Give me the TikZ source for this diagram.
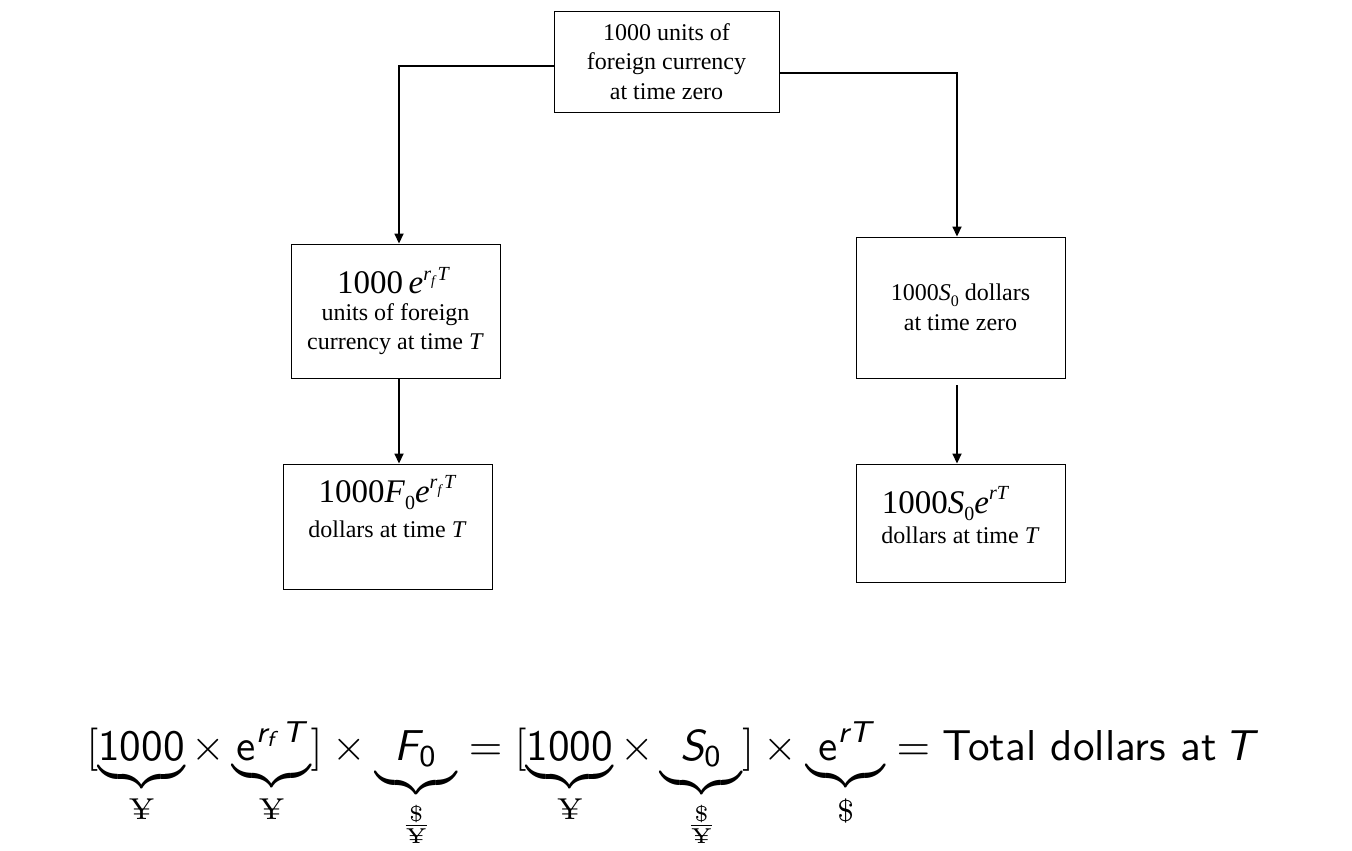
\documentclass[tikz,border=0pt]{standalone}
\usepackage{amsmath}
\usepackage{graphicx}
\usepackage{fontspec}
\newfontfamily\tnr{Liberation Serif}
\usetikzlibrary{arrows.meta,calc}
\newcommand\sfi[1]{\text{\sffamily\itshape #1}}
\newcommand\sfu[1]{\text{\sffamily #1}}
\newcommand\yy{\text{\rmfamily ¥}}
\newcommand\rfT{\raisebox{0.42em}{\fontsize{20}{20}\selectfont\textit{r}\raisebox{-0.28em}{\fontsize{14}{14}\selectfont\textit{f}}\hspace{1pt}\textit{T}}}
\newcommand\rT{\raisebox{0.42em}{\fontsize{20}{20}\selectfont\textit{rT}}}
\newcommand\zsub{\raisebox{-0.22em}{\fontsize{20}{20}\selectfont 0}}
\begin{document}
\begin{tikzpicture}[x=1pt,y=-1pt,
  box/.style={draw, line width=0.9pt, inner sep=0pt, align=center,
    font=\tnr\fontsize{24}{29.5}\selectfont},
  txt/.style={inner sep=0pt, align=center, font=\tnr\fontsize{24}{29.5}\selectfont},
  conn/.style={line width=1.3pt},
  arr/.style={line width=1.7pt, -{Triangle[length=10pt,width=9pt]}}]
\useasboundingbox (0,0) rectangle (1352,851);
\node[box, minimum width=225pt, minimum height=101pt] (top) at (666.5,61.5)
  {1000 units of\\foreign currency\\at time zero};
\node[box, minimum width=209pt, minimum height=134pt] (A) at (395.5,311)
  {{\fontsize{33}{36}\selectfont 1000\,\textit{e}\rfT\hspace{4pt}\mbox{}}\\[-3pt]units of foreign\\currency at time \textit{T}};
\node[box, minimum width=209pt, minimum height=125pt] (B) at (387.5,526.5) {};
\node[txt, anchor=north] (Bt) at ([yshift=-12pt]B.north)
  {{\fontsize{33}{36}\selectfont 1000\textit{F}\zsub\textit{e}\rfT}\\[5pt]dollars at time \textit{T}};
\node[box, minimum width=209pt, minimum height=141pt] (C) at (960.5,307.5)
  {1000\textit{S}\raisebox{-0.22em}{\fontsize{16}{16}\selectfont 0} dollars\\at time zero};
\node[box, minimum width=209pt, minimum height=118pt] (D) at (960.5,523) {};
\node[txt, anchor=north] (Dt) at ([yshift=-23pt]D.north)
  {{\fontsize{33}{36}\selectfont 1000\textit{S}\zsub\textit{e}\rT\hspace{30pt}\mbox{}}\\[0pt]dollars at time \textit{T}};
\draw[conn] ([yshift=-4.5pt]top.west) -| ([xshift=3.5pt]A.north |- 0,70);
\draw[arr] ([xshift=3.5pt]A.north |- 0,66) -- ([xshift=3.5pt]A.north);
\draw[conn] ([yshift=-11.5pt]top.east) -| ([xshift=-3.5pt]C.north |- 0,77);
\draw[arr] ([xshift=-3.5pt]C.north |- 0,73) -- ([xshift=-3.5pt]C.north);
\draw[arr] ([xshift=3.5pt]A.south) -- ([xshift=3.5pt]A.south |- B.north);
\draw[arr] ([xshift=-3.5pt,yshift=-7pt]C.south) -- ([xshift=-3.5pt]C.south |- D.north);
\node[anchor=base, inner sep=0pt] (eq) at (670,760)
  {\scalebox{4.32}{$[\underbrace{\sfu{1000}}_{\yy}\times\underbrace{\sfu{e}^{\sfi{r}_{\sfi{f}}\,\sfi{T}}}_{\yy}]
  \times\underbrace{\hspace{.45em}\sfi{F}_{\sfu{0}}\hspace{.45em}}_{\frac{\$}{\yy}}
  =[\underbrace{\sfu{1000}}_{\yy}\times\underbrace{\hspace{.45em}\sfi{S}_{\sfu{0}}\hspace{.45em}}_{\frac{\$}{\yy}}]
  \times\underbrace{\sfu{e}^{\sfi{rT}}}_{\$}=\sfu{Total dollars at}\,\sfi{T}$}};
\end{tikzpicture}
\end{document}
